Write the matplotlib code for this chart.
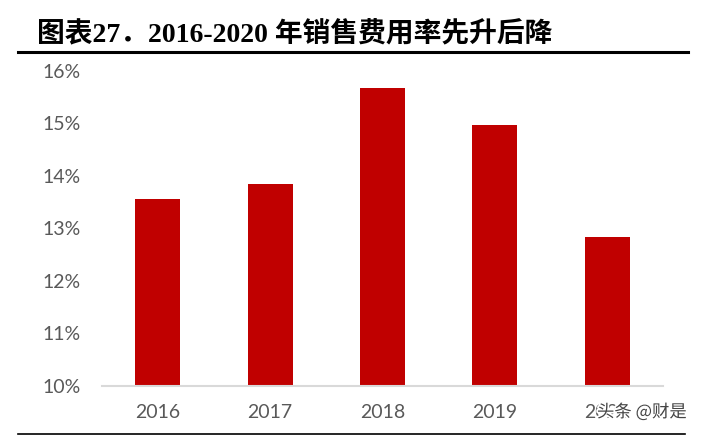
import matplotlib.pyplot as plt
import matplotlib.patheffects as pe
from matplotlib.lines import Line2D
import numpy as np

years = ['2016', '2017', '2018', '2019', '2020']
rates = [13.56, 13.84, 15.67, 14.98, 12.83]  # 销售费用率 %
y_ticks = [10, 11, 12, 13, 14, 15, 16]

title = '图表27．2016-2020 年销售费用率先升后降'
watermark = '头条 @财是'

fig = plt.figure(figsize=(7.01, 4.36), dpi=100)
ax = fig.add_axes([0.1451, 0.1147, 0.8011, 0.7225])

x = np.arange(len(years))
ax.bar(x, rates, width=0.4, bottom=0, color='#C00000', zorder=2)
ax.set_xlim(-0.5, len(years) - 0.5)
ax.set_ylim(10, 16)

ax.set_yticks(y_ticks)
ax.set_yticklabels([f'{t}%' for t in y_ticks])
ax.set_xticks(x)
ax.set_xticklabels(years)

for s in ['top', 'right', 'left']:
    ax.spines[s].set_visible(False)
ax.spines['bottom'].set_color('#D9D9D9')
ax.spines['bottom'].set_linewidth(1.5)
ax.spines['bottom'].set_zorder(3)

ax.tick_params(axis='both', length=0, labelsize=14, labelcolor='#595959')
ax.tick_params(axis='y', pad=15)
ax.tick_params(axis='x', pad=13)
for lab in ax.get_xticklabels() + ax.get_yticklabels():
    lab.set_family(['Lato', 'DejaVu Sans'])

# title and rules
fig.text(37 / 701, 1 - 35 / 436, title, ha='left', va='center',
         fontsize=20, fontweight='bold',
         family=['Liberation Serif', 'Noto Sans CJK SC'])
fig.add_artist(Line2D([18 / 701, 688 / 701], [1 - 52 / 436, 1 - 52 / 436],
                      color='black', lw=2.2, transform=fig.transFigure))
fig.add_artist(Line2D([18 / 701, 685 / 701], [1 - 434 / 436, 1 - 434 / 436],
                      color='black', lw=1.2, transform=fig.transFigure))

# watermark sits over the last year label, as in the source
fig.text(597 / 701, 1 - 412 / 436, watermark, ha='left', va='center',
         fontsize=12.5, color='#444444',
         family=['Noto Sans CJK SC', 'DejaVu Sans'],
         path_effects=[pe.withStroke(linewidth=2.5, foreground='white')])

fig.savefig('out.png', dpi=100)
